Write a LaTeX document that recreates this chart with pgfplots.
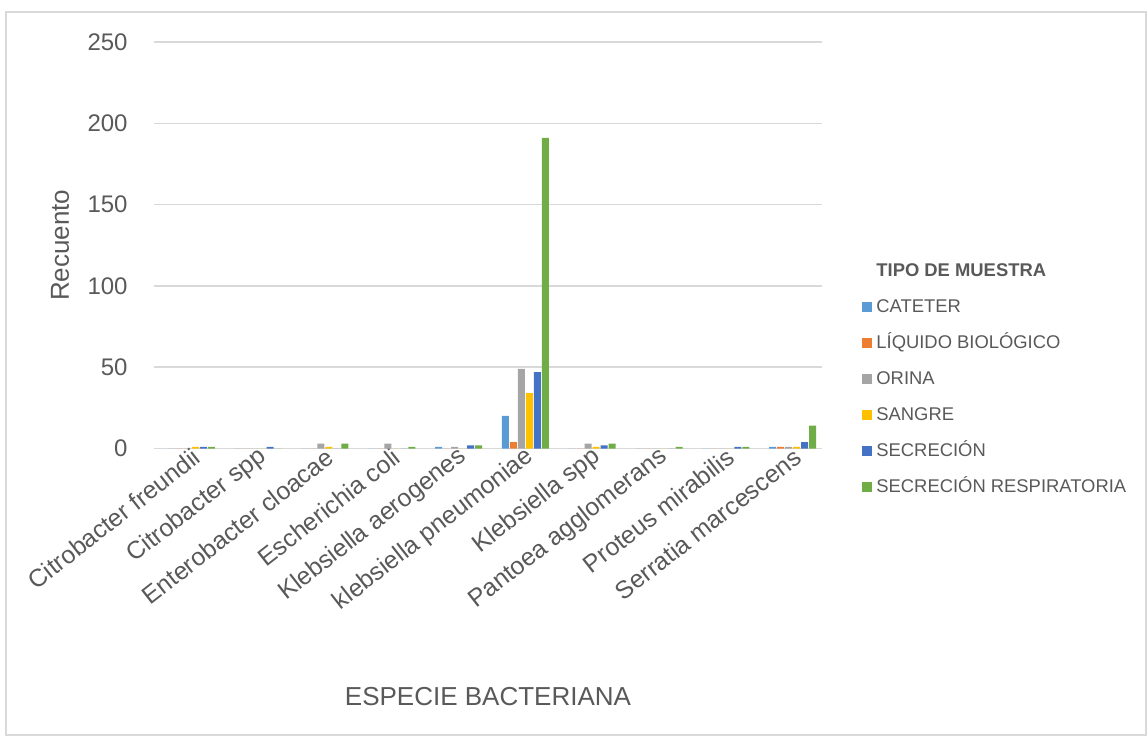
\documentclass[border=0pt]{standalone}
\usepackage{pgfplots}
\usepackage{pgfplotstable}
\pgfplotsset{compat=1.18}
\usepackage{fontspec}
\setmainfont{Liberation Sans}
\definecolor{txt}{HTML}{595959}
\definecolor{gridc}{HTML}{D9D9D9}
\definecolor{cC}{HTML}{5B9BD5}
\definecolor{cL}{HTML}{ED7D31}
\definecolor{cO}{HTML}{A5A5A5}
\definecolor{cS}{HTML}{FFC000}
\definecolor{cSE}{HTML}{4472C4}
\definecolor{cSR}{HTML}{70AD47}
\pgfplotsset{sqlegend/.style={legend image code/.code={\fill[##1] (0pt,-2.5pt) rectangle (5pt,2.5pt);}}}
\pgfplotstableread{
x C L O S SE SR
0 0 0 0 1 1 1
1 0 0 0 0 1 0
2 0 0 3 1 0 3
3 0 0 3 0 0 1
4 1 0 1 0 2 2
5 20 4 49 34 47 191
6 0 0 3 1 2 3
7 0 0 0 0 0 1
8 0 0 0 0 1 1
9 1 1 1 1 4 14
}\datatable
\begin{document}
\begin{tikzpicture}
\begin{axis}[
 at={(77pt,143.75pt)}, anchor=south west,
 scale only axis, width=334pt, height=203.25pt,
 ybar, bar width=3.5pt,
 xmin=-0.5, xmax=9.5, ymin=0, ymax=250, enlargelimits=false,
 xtick={0,...,9},
 xticklabels={Citrobacter freundii,Citrobacter spp,Enterobacter cloacae,Escherichia coli,Klebsiella aerogenes,klebsiella pneumoniae,Klebsiella spp,Pantoea agglomerans,Proteus mirabilis,Serratia marcescens},
 ytick={0,50,...,250},
 ymajorgrids, grid style={draw=gridc, line width=0.75pt},
 axis line style={draw=none},
 major tick length=0pt,
 tick style={draw=none},
 /pgf/number format/assume math mode=true,
 ticklabel style={font=\fontsize{12}{14}\selectfont, text=txt},
 yticklabel style={anchor=east, inner sep=0pt, xshift=-13pt},
 xticklabel style={font=\fontsize{12.4}{14}\selectfont, rotate=38, anchor=east, inner sep=0pt, xshift=2pt, yshift=-5pt},
 label style={font=\fontsize{13}{15}\selectfont, text=txt},
 xlabel={ESPECIE BACTERIANA},
 ylabel={Recuento},
 xlabel style={at={(axis description cs:0.5,-0.6113)}, anchor=center},
 ylabel style={at={(axis description cs:-0.1407,0.5)}, anchor=center},
 legend cell align=left,
 legend style={at={(axis description cs:1.0599,0.4593)}, anchor=north west, draw=none, fill=none, inner sep=0pt, row sep=9pt, column sep=2pt, font=\fontsize{9.2}{11}\selectfont, text=txt, nodes={inner sep=0pt, text height=7pt, text depth=2pt}},
]
\addlegendimage{empty legend}
\addlegendentry{\textbf{TIPO DE MUESTRA}}
\addplot[fill=cC, draw=none, bar shift=-8pt, sqlegend] table[x=x, y=C] {\datatable};
\addlegendentry{CATETER}
\addplot[fill=cL, draw=none, bar shift=-4pt, sqlegend] table[x=x, y=L] {\datatable};
\addlegendentry{LÍQUIDO BIOLÓGICO}
\addplot[fill=cO, draw=none, bar shift=0pt, sqlegend] table[x=x, y=O] {\datatable};
\addlegendentry{ORINA}
\addplot[fill=cS, draw=none, bar shift=4pt, sqlegend] table[x=x, y=S] {\datatable};
\addlegendentry{SANGRE}
\addplot[fill=cSE, draw=none, bar shift=8pt, sqlegend] table[x=x, y=SE] {\datatable};
\addlegendentry{SECRECIÓN}
\addplot[fill=cSR, draw=none, bar shift=12pt, sqlegend] table[x=x, y=SR] {\datatable};
\addlegendentry{SECRECIÓN RESPIRATORIA}
\end{axis}
\draw[gridc, line width=0.75pt] (3pt,0.5pt) rectangle (573pt,362pt);
\pgfresetboundingbox
\path[use as bounding box] (0,0) rectangle (574pt,368pt);
\end{tikzpicture}
\end{document}
